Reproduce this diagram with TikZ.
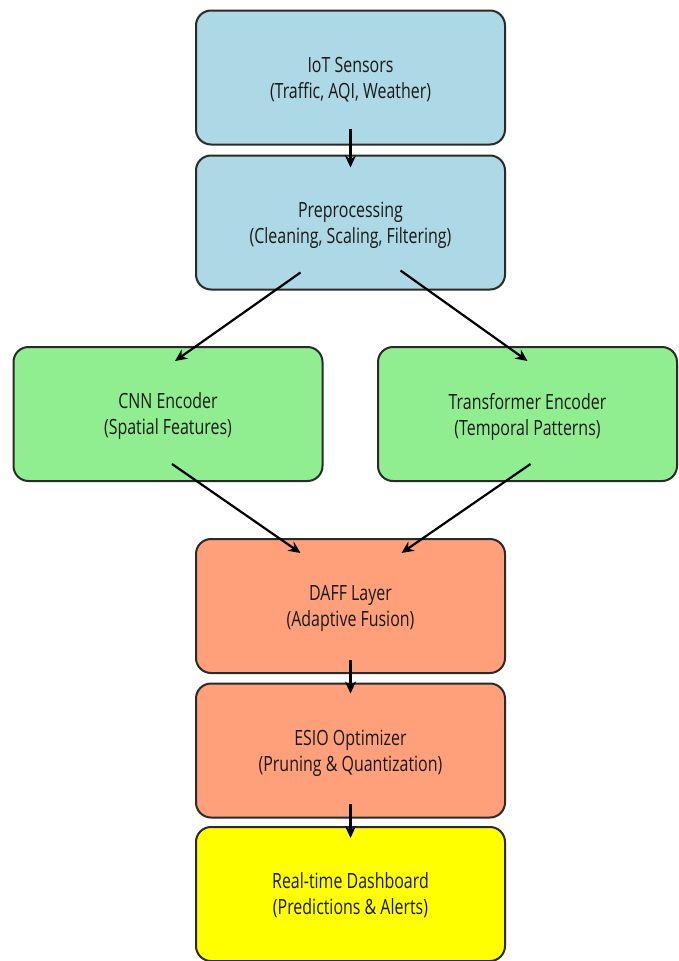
\documentclass[tikz,border=0pt]{standalone}
\usepackage{fontspec}
\setmainfont{Open Sans}[FakeStretch=0.76]
\usetikzlibrary{calc,arrows.meta}
\definecolor{boxblue}{HTML}{ADD8E6}
\definecolor{boxgreen}{HTML}{90EE90}
\definecolor{boxsalmon}{HTML}{FFA07A}
\definecolor{boxyellow}{HTML}{FFFF00}
\definecolor{edge}{HTML}{2A2A2A}
\tikzset{
  stagebox/.style={draw=edge, line width=2pt, rounded corners=15pt, minimum width=309pt, minimum height=134pt, align=center, inner sep=0pt, font=\fontsize{21}{26}\selectfont, text=black!90, text depth=-2pt},
  flowarrow/.style={draw=black, line width=2.2pt, -{Stealth[length=12pt,width=11pt]}}
}
\begin{document}
\begin{tikzpicture}[x=1pt,y=-1pt]
\useasboundingbox (0,0) rectangle (678,961);
\fill[white] (0,0) rectangle (678,961);
\node[stagebox, fill=boxblue] (iot) at (350.5,77.5) {IoT Sensors\\(Traffic, AQI, Weather)};
\node[stagebox, fill=boxblue] (prep) at (350.5,222.5) {Preprocessing\\(Cleaning, Scaling, Filtering)};
\node[stagebox, fill=boxgreen] (cnn) at (168,414) {CNN Encoder\\(Spatial Features)};
\node[stagebox, fill=boxgreen, minimum width=299pt] (trans) at (527.5,414) {Transformer Encoder\\(Temporal Patterns)};
\node[stagebox, fill=boxsalmon] (daff) at (350.5,606) {DAFF Layer\\(Adaptive Fusion)};
\node[stagebox, fill=boxsalmon] (esio) at (350.5,750.5) {ESIO Optimizer\\(Pruning \& Quantization)};
\node[stagebox, fill=boxyellow] (dash) at (350.5,894) {Real-time Dashboard\\(Predictions \& Alerts)};
\draw[flowarrow] ($(iot.south)+(0,-17)$) -- ($(prep.north)+(0,13)$);
\draw[flowarrow] ($(prep.south)+(-50,-18)$) -- ($(cnn.north)+(7,15)$);
\draw[flowarrow] ($(prep.south)+(50,-20)$) -- ($(trans.north)+(0,15)$);
\draw[flowarrow] ($(cnn.south)+(4,-18)$) -- ($(daff.north)+(-50,15)$);
\draw[flowarrow] ($(trans.south)+(3,-18)$) -- ($(daff.north)+(51,15)$);
\draw[flowarrow] ($(daff.south)+(0,-14)$) -- ($(esio.north)+(0,11)$);
\draw[flowarrow] ($(esio.south)+(0,-15)$) -- ($(dash.north)+(0,12)$);
\end{tikzpicture}
\end{document}
